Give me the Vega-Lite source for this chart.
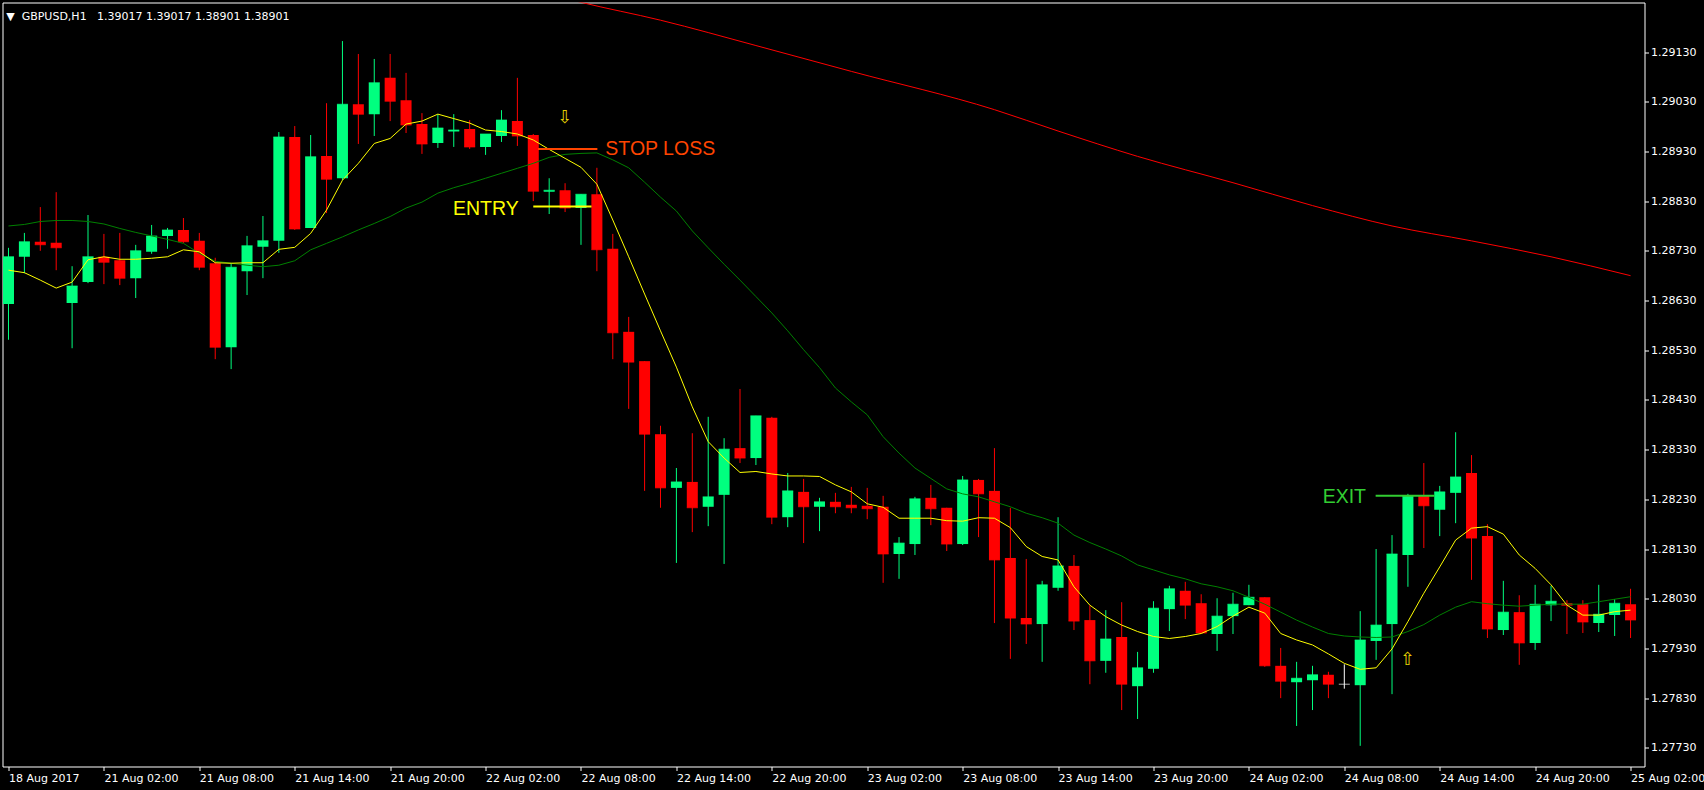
{
  "$schema": "https://vega.github.io/schema/vega-lite/v6.json",
  "width": 1642,
  "height": 764,
  "autosize": "none",
  "padding": {"left": 2.5, "top": 2.5, "right": 59.5, "bottom": 23.5},
  "background": "#000000",
  "config": {
    "view": {"stroke": "#ffffff", "strokeWidth": 1},
    "axis": {"grid": false, "domain": false, "labelColor": "#ffffff", "tickColor": "#ffffff", "labelFont": "DejaVu Sans", "labelFontSize": 11, "labelOverlap": false, "labelBound": false, "labelFlush": false, "tickSize": 4, "title": null}
  },
  "title": {
    "text": "▼\u00a0\u00a0GBPUSD,H1\u00a0\u00a0 1.39017 1.39017 1.38901 1.38901",
    "anchor": "start",
    "frame": "group",
    "orient": "top",
    "offset": -28,
    "dx": 3.7,
    "color": "#ffffff",
    "font": "DejaVu Sans",
    "fontSize": 11,
    "fontWeight": "normal",
    "baseline": "alphabetic"
  },
  "datasets": {
    "bars": [
      {"i":0,"o":1.28623,"h":1.28736,"l":1.28551,"c":1.28718,"fast":1.28691,"slow":1.28780},
      {"i":1,"o":1.28718,"h":1.28766,"l":1.28685,"c":1.28748,"fast":1.28686,"slow":1.28783},
      {"i":2,"o":1.28748,"h":1.28818,"l":1.28730,"c":1.28742,"fast":1.28671,"slow":1.28789},
      {"i":3,"o":1.28746,"h":1.28848,"l":1.28691,"c":1.28736,"fast":1.28655,"slow":1.28791},
      {"i":4,"o":1.28625,"h":1.28699,"l":1.28534,"c":1.28659,"fast":1.28667,"slow":1.28791},
      {"i":5,"o":1.28667,"h":1.28802,"l":1.28665,"c":1.28718,"fast":1.28712,"slow":1.28789},
      {"i":6,"o":1.28718,"h":1.28764,"l":1.28663,"c":1.28707,"fast":1.28718,"slow":1.28784},
      {"i":7,"o":1.28711,"h":1.28766,"l":1.28661,"c":1.28675,"fast":1.28713,"slow":1.28775},
      {"i":8,"o":1.28675,"h":1.28742,"l":1.28635,"c":1.28730,"fast":1.28713,"slow":1.28767},
      {"i":9,"o":1.28728,"h":1.28782,"l":1.28724,"c":1.28760,"fast":1.28715,"slow":1.28760},
      {"i":10,"o":1.28760,"h":1.28776,"l":1.28734,"c":1.28772,"fast":1.28718,"slow":1.28753},
      {"i":11,"o":1.28772,"h":1.28796,"l":1.28746,"c":1.28748,"fast":1.28732,"slow":1.28745},
      {"i":12,"o":1.28750,"h":1.28766,"l":1.28691,"c":1.28697,"fast":1.28728,"slow":1.28725},
      {"i":13,"o":1.28705,"h":1.28716,"l":1.28512,"c":1.28536,"fast":1.28706,"slow":1.28709},
      {"i":14,"o":1.28536,"h":1.28705,"l":1.28492,"c":1.28697,"fast":1.28705,"slow":1.28705},
      {"i":15,"o":1.28689,"h":1.28760,"l":1.28641,"c":1.28740,"fast":1.28706,"slow":1.28701},
      {"i":16,"o":1.28738,"h":1.28800,"l":1.28675,"c":1.28750,"fast":1.28706,"slow":1.28698},
      {"i":17,"o":1.28750,"h":1.28969,"l":1.28726,"c":1.28959,"fast":1.28733,"slow":1.28701},
      {"i":18,"o":1.28959,"h":1.28981,"l":1.28772,"c":1.28774,"fast":1.28737,"slow":1.28710},
      {"i":19,"o":1.28776,"h":1.28963,"l":1.28776,"c":1.28919,"fast":1.28765,"slow":1.28732},
      {"i":20,"o":1.28921,"h":1.29027,"l":1.28806,"c":1.28874,"fast":1.28812,"slow":1.28745},
      {"i":21,"o":1.28876,"h":1.29152,"l":1.28872,"c":1.29025,"fast":1.28872,"slow":1.28758},
      {"i":22,"o":1.29025,"h":1.29126,"l":1.28945,"c":1.29005,"fast":1.28906,"slow":1.28772},
      {"i":23,"o":1.29005,"h":1.29116,"l":1.28961,"c":1.29068,"fast":1.28946,"slow":1.28785},
      {"i":24,"o":1.29078,"h":1.29126,"l":1.28991,"c":1.29031,"fast":1.28956,"slow":1.28799},
      {"i":25,"o":1.29033,"h":1.29088,"l":1.28967,"c":1.28983,"fast":1.28985,"slow":1.28816},
      {"i":26,"o":1.28985,"h":1.29007,"l":1.28925,"c":1.28945,"fast":1.28991,"slow":1.28828},
      {"i":27,"o":1.28947,"h":1.29005,"l":1.28937,"c":1.28977,"fast":1.29005,"slow":1.28846},
      {"i":28,"o":1.28970,"h":1.29005,"l":1.28939,"c":1.28973,"fast":1.28996,"slow":1.28857},
      {"i":29,"o":1.28975,"h":1.28993,"l":1.28935,"c":1.28939,"fast":1.28987,"slow":1.28866},
      {"i":30,"o":1.28939,"h":1.28965,"l":1.28923,"c":1.28965,"fast":1.28973,"slow":1.28876},
      {"i":31,"o":1.28961,"h":1.29013,"l":1.28949,"c":1.28993,"fast":1.28970,"slow":1.28886},
      {"i":32,"o":1.28991,"h":1.29078,"l":1.28941,"c":1.28961,"fast":1.28965,"slow":1.28896},
      {"i":33,"o":1.28963,"h":1.28965,"l":1.28830,"c":1.28850,"fast":1.28953,"slow":1.28906},
      {"i":34,"o":1.28849,"h":1.28876,"l":1.28804,"c":1.28852,"fast":1.28934,"slow":1.28918},
      {"i":35,"o":1.28852,"h":1.28866,"l":1.28808,"c":1.28816,"fast":1.28916,"slow":1.28924},
      {"i":36,"o":1.28816,"h":1.28844,"l":1.28742,"c":1.28844,"fast":1.28898,"slow":1.28926},
      {"i":37,"o":1.28844,"h":1.28897,"l":1.28689,"c":1.28732,"fast":1.28864,"slow":1.28927},
      {"i":38,"o":1.28734,"h":1.28764,"l":1.28512,"c":1.28565,"fast":1.28792,"slow":1.28913},
      {"i":39,"o":1.28567,"h":1.28597,"l":1.28412,"c":1.28506,"fast":1.28718,"slow":1.28897},
      {"i":40,"o":1.28508,"h":1.28508,"l":1.28247,"c":1.28361,"fast":1.28643,"slow":1.28868},
      {"i":41,"o":1.28361,"h":1.28378,"l":1.28213,"c":1.28253,"fast":1.28569,"slow":1.28838},
      {"i":42,"o":1.28253,"h":1.28293,"l":1.28102,"c":1.28265,"fast":1.28496,"slow":1.28810},
      {"i":43,"o":1.28265,"h":1.28363,"l":1.28164,"c":1.28213,"fast":1.28416,"slow":1.28770},
      {"i":44,"o":1.28215,"h":1.28396,"l":1.28176,"c":1.28235,"fast":1.28346,"slow":1.28736},
      {"i":45,"o":1.28239,"h":1.28353,"l":1.28100,"c":1.28331,"fast":1.28313,"slow":1.28703},
      {"i":46,"o":1.28333,"h":1.28452,"l":1.28303,"c":1.28313,"fast":1.28284,"slow":1.28671},
      {"i":47,"o":1.28313,"h":1.28398,"l":1.28299,"c":1.28398,"fast":1.28286,"slow":1.28638},
      {"i":48,"o":1.28394,"h":1.28396,"l":1.28180,"c":1.28194,"fast":1.28281,"slow":1.28605},
      {"i":49,"o":1.28194,"h":1.28283,"l":1.28174,"c":1.28247,"fast":1.28277,"slow":1.28569},
      {"i":50,"o":1.28245,"h":1.28271,"l":1.28142,"c":1.28215,"fast":1.28277,"slow":1.28531},
      {"i":51,"o":1.28215,"h":1.28233,"l":1.28166,"c":1.28225,"fast":1.28276,"slow":1.28495},
      {"i":52,"o":1.28225,"h":1.28243,"l":1.28202,"c":1.28215,"fast":1.28259,"slow":1.28454},
      {"i":53,"o":1.28219,"h":1.28255,"l":1.28202,"c":1.28213,"fast":1.28245,"slow":1.28426},
      {"i":54,"o":1.28217,"h":1.28253,"l":1.28190,"c":1.28211,"fast":1.28221,"slow":1.28400},
      {"i":55,"o":1.28215,"h":1.28237,"l":1.28062,"c":1.28120,"fast":1.28214,"slow":1.28356},
      {"i":56,"o":1.28120,"h":1.28154,"l":1.28070,"c":1.28142,"fast":1.28192,"slow":1.28323},
      {"i":57,"o":1.28140,"h":1.28235,"l":1.28118,"c":1.28231,"fast":1.28192,"slow":1.28293},
      {"i":58,"o":1.28233,"h":1.28259,"l":1.28178,"c":1.28211,"fast":1.28192,"slow":1.28272},
      {"i":59,"o":1.28213,"h":1.28213,"l":1.28126,"c":1.28140,"fast":1.28187,"slow":1.28251},
      {"i":60,"o":1.28140,"h":1.28277,"l":1.28138,"c":1.28269,"fast":1.28186,"slow":1.28241},
      {"i":61,"o":1.28269,"h":1.28271,"l":1.28154,"c":1.28241,"fast":1.28193,"slow":1.28235},
      {"i":62,"o":1.28247,"h":1.28333,"l":1.27981,"c":1.28108,"fast":1.28192,"slow":1.28225},
      {"i":63,"o":1.28112,"h":1.28213,"l":1.27909,"c":1.27991,"fast":1.28173,"slow":1.28215},
      {"i":64,"o":1.27991,"h":1.28110,"l":1.27939,"c":1.27979,"fast":1.28135,"slow":1.28202},
      {"i":65,"o":1.27979,"h":1.28066,"l":1.27903,"c":1.28058,"fast":1.28115,"slow":1.28193},
      {"i":66,"o":1.28052,"h":1.28194,"l":1.28046,"c":1.28096,"fast":1.28108,"slow":1.28182},
      {"i":67,"o":1.28096,"h":1.28118,"l":1.27967,"c":1.27985,"fast":1.28054,"slow":1.28158},
      {"i":68,"o":1.27987,"h":1.28017,"l":1.27858,"c":1.27905,"fast":1.28017,"slow":1.28143},
      {"i":69,"o":1.27905,"h":1.28007,"l":1.27881,"c":1.27949,"fast":1.27994,"slow":1.28130},
      {"i":70,"o":1.27953,"h":1.28023,"l":1.27806,"c":1.27858,"fast":1.27977,"slow":1.28116},
      {"i":71,"o":1.27854,"h":1.27923,"l":1.27788,"c":1.27891,"fast":1.27964,"slow":1.28098},
      {"i":72,"o":1.27889,"h":1.28025,"l":1.27881,"c":1.28011,"fast":1.27954,"slow":1.28088},
      {"i":73,"o":1.28009,"h":1.28056,"l":1.27965,"c":1.28050,"fast":1.27950,"slow":1.28078},
      {"i":74,"o":1.28046,"h":1.28064,"l":1.27989,"c":1.28017,"fast":1.27954,"slow":1.28070},
      {"i":75,"o":1.28021,"h":1.28039,"l":1.27961,"c":1.27961,"fast":1.27960,"slow":1.28060},
      {"i":76,"o":1.27959,"h":1.28031,"l":1.27925,"c":1.27995,"fast":1.27974,"slow":1.28054},
      {"i":77,"o":1.27995,"h":1.28042,"l":1.27959,"c":1.28019,"fast":1.27995,"slow":1.28046},
      {"i":78,"o":1.28017,"h":1.28058,"l":1.28017,"c":1.28033,"fast":1.28013,"slow":1.28033},
      {"i":79,"o":1.28033,"h":1.28033,"l":1.27893,"c":1.27895,"fast":1.28001,"slow":1.28019},
      {"i":80,"o":1.27895,"h":1.27931,"l":1.27830,"c":1.27864,"fast":1.27960,"slow":1.28003},
      {"i":81,"o":1.27862,"h":1.27903,"l":1.27774,"c":1.27870,"fast":1.27947,"slow":1.27987},
      {"i":82,"o":1.27866,"h":1.27895,"l":1.27806,"c":1.27877,"fast":1.27937,"slow":1.27973},
      {"i":83,"o":1.27877,"h":1.27883,"l":1.27830,"c":1.27858,"fast":1.27919,"slow":1.27960},
      {"i":84,"o":1.27858,"h":1.27898,"l":1.27849,"c":1.27858,"fast":1.27900,"slow":1.27955},
      {"i":85,"o":1.27856,"h":1.28005,"l":1.27734,"c":1.27947,"fast":1.27888,"slow":1.27953},
      {"i":86,"o":1.27945,"h":1.28130,"l":1.27907,"c":1.27977,"fast":1.27891,"slow":1.27952},
      {"i":87,"o":1.27979,"h":1.28158,"l":1.27838,"c":1.28120,"fast":1.27929,"slow":1.27953},
      {"i":88,"o":1.28118,"h":1.28241,"l":1.28054,"c":1.28237,"fast":1.27984,"slow":1.27964},
      {"i":89,"o":1.28237,"h":1.28303,"l":1.28132,"c":1.28217,"fast":1.28041,"slow":1.27978},
      {"i":90,"o":1.28209,"h":1.28257,"l":1.28156,"c":1.28245,"fast":1.28094,"slow":1.27997},
      {"i":91,"o":1.28243,"h":1.28365,"l":1.28182,"c":1.28275,"fast":1.28148,"slow":1.28013},
      {"i":92,"o":1.28283,"h":1.28319,"l":1.28068,"c":1.28152,"fast":1.28172,"slow":1.28024},
      {"i":93,"o":1.28156,"h":1.28180,"l":1.27951,"c":1.27969,"fast":1.28175,"slow":1.28020},
      {"i":94,"o":1.27967,"h":1.28066,"l":1.27957,"c":1.28003,"fast":1.28160,"slow":1.28017},
      {"i":95,"o":1.28003,"h":1.28037,"l":1.27897,"c":1.27941,"fast":1.28118,"slow":1.28015},
      {"i":96,"o":1.27941,"h":1.28058,"l":1.27927,"c":1.28019,"fast":1.28091,"slow":1.28017},
      {"i":97,"o":1.28017,"h":1.28056,"l":1.27985,"c":1.28025,"fast":1.28058,"slow":1.28019},
      {"i":98,"o":1.28021,"h":1.28027,"l":1.27959,"c":1.28017,"fast":1.28017,"slow":1.28019},
      {"i":99,"o":1.28019,"h":1.28027,"l":1.27961,"c":1.27983,"fast":1.27997,"slow":1.28019},
      {"i":100,"o":1.27981,"h":1.28058,"l":1.27963,"c":1.27999,"fast":1.27997,"slow":1.28024},
      {"i":101,"o":1.27997,"h":1.28029,"l":1.27955,"c":1.28021,"fast":1.28004,"slow":1.28029},
      {"i":102,"o":1.28019,"h":1.28050,"l":1.27951,"c":1.27987,"fast":1.28007,"slow":1.28034}
    ],
    "ma200": [
      {"i":35,"v":1.29238},{"i":36,"v":1.29230},{"i":41,"v":1.29194},{"i":47,"v":1.29143},
      {"i":53,"v":1.29091},{"i":62,"v":1.29014},{"i":66,"v":1.28971},{"i":71,"v":1.28920},
      {"i":77,"v":1.28867},{"i":82,"v":1.28821},{"i":87,"v":1.28780},{"i":92,"v":1.28750},
      {"i":97,"v":1.28718},{"i":102,"v":1.28680}
    ],
    "levels": [
      {"kind":"stop","i":33.3,"i2":37.03,"p":1.28935},
      {"kind":"entry","i":33.0,"i2":36.66,"p":1.28819},
      {"kind":"exit","i":85.97,"i2":89.66,"p":1.28237}
    ],
    "notes": [
      {"kind":"entry","label":"ENTRY","i":27.95,"p":1.28802},
      {"kind":"stop","label":"STOP LOSS","i":37.53,"p":1.28922},
      {"kind":"exit","label":"EXIT","i":82.64,"p":1.28223}
    ],
    "arrows": [
      {"glyph":"⇩","i":35,"p":1.28997},
      {"glyph":"⇧","i":88,"p":1.27907}
    ]
  },
  "layer": [
    {
      "data": {"name": "bars"},
      "mark": {"type": "rule", "strokeWidth": 1, "clip": true},
      "encoding": {
        "x": {"field": "i", "type": "quantitative", "title": null,
              "scale": {"domain": [-0.0625, 102.5625], "nice": false, "zero": false},
              "axis": {"orient": "bottom", "values": [0,6,12,18,24,30,36,42,48,54,60,66,72,78,84,90,96,102],
                       "labelExpr": "['18 Aug 2017','21 Aug 02:00','21 Aug 08:00','21 Aug 14:00','21 Aug 20:00','22 Aug 02:00','22 Aug 08:00','22 Aug 14:00','22 Aug 20:00','23 Aug 02:00','23 Aug 08:00','23 Aug 14:00','23 Aug 20:00','24 Aug 02:00','24 Aug 08:00','24 Aug 14:00','24 Aug 20:00','25 Aug 02:00'][round(datum.value/6)]",
                       "labelAlign": "left", "labelDx": -1.5, "labelBaseline": "top", "labelPadding": 1.5}},
        "y": {"field": "l", "type": "quantitative", "title": null,
              "scale": {"domain": [1.2769243, 1.292296], "nice": false, "zero": false},
              "axis": {"orient": "right", "values": [1.2773,1.2783,1.2793,1.2803,1.2813,1.2823,1.2833,1.2843,1.2853,1.2863,1.2873,1.2883,1.2893,1.2903,1.2913],
                       "format": ".5f", "labelPadding": 2}},
        "y2": {"field": "h"},
        "color": {"condition": [{"test": "datum.c > datum.o", "value": "#00ff7f"}, {"test": "datum.c < datum.o", "value": "#ff0000"}], "value": "#ffffff"}
      }
    },
    {
      "data": {"name": "bars"},
      "mark": {"type": "bar", "size": 11, "clip": true},
      "encoding": {
        "x": {"field": "i", "type": "quantitative", "title": null},
        "y": {"field": "o", "type": "quantitative", "title": null},
        "y2": {"field": "c"},
        "color": {"condition": [{"test": "datum.c > datum.o", "value": "#00ff7f"}, {"test": "datum.c < datum.o", "value": "#ff0000"}], "value": "#ffffff"}
      }
    },
    {
      "data": {"name": "bars"},
      "mark": {"type": "tick", "orient": "horizontal", "size": 11, "thickness": 1, "clip": true},
      "encoding": {
        "x": {"field": "i", "type": "quantitative", "title": null},
        "y": {"field": "c", "type": "quantitative", "title": null},
        "color": {"condition": [{"test": "datum.c > datum.o", "value": "#00ff7f"}, {"test": "datum.c < datum.o", "value": "#ff0000"}], "value": "#ffffff"}
      }
    },
    {
      "data": {"name": "bars"},
      "mark": {"type": "line", "color": "#008000", "strokeWidth": 1, "clip": true},
      "encoding": {
        "x": {"field": "i", "type": "quantitative", "title": null},
        "y": {"field": "slow", "type": "quantitative", "title": null}
      }
    },
    {
      "data": {"name": "bars"},
      "mark": {"type": "line", "color": "#ffff00", "strokeWidth": 1, "clip": true},
      "encoding": {
        "x": {"field": "i", "type": "quantitative", "title": null},
        "y": {"field": "fast", "type": "quantitative", "title": null}
      }
    },
    {
      "data": {"name": "ma200"},
      "mark": {"type": "line", "color": "#ff0000", "strokeWidth": 1, "clip": true, "interpolate": "monotone"},
      "encoding": {
        "x": {"field": "i", "type": "quantitative", "title": null},
        "y": {"field": "v", "type": "quantitative", "title": null}
      }
    },
    {
      "data": {"name": "levels"},
      "mark": {"type": "rule", "strokeWidth": 2},
      "encoding": {
        "x": {"field": "i", "type": "quantitative", "title": null},
        "x2": {"field": "i2"},
        "y": {"field": "p", "type": "quantitative", "title": null},
        "color": {"condition": [{"test": "datum.kind == 'stop'", "value": "#ff4500"}, {"test": "datum.kind == 'entry'", "value": "#ffff00"}], "value": "#32cd32"}
      }
    },
    {
      "data": {"name": "notes"},
      "mark": {"type": "text", "font": "Liberation Sans", "fontSize": 19.5, "align": "left", "baseline": "alphabetic"},
      "encoding": {
        "x": {"field": "i", "type": "quantitative", "title": null},
        "y": {"field": "p", "type": "quantitative", "title": null},
        "text": {"field": "label"},
        "color": {"condition": [{"test": "datum.kind == 'stop'", "value": "#ff4500"}, {"test": "datum.kind == 'entry'", "value": "#ffff00"}], "value": "#32cd32"}
      }
    },
    {
      "data": {"name": "arrows"},
      "mark": {"type": "text", "font": "DejaVu Sans", "fontSize": 18, "align": "center", "baseline": "middle", "color": "#e6d200"},
      "encoding": {
        "x": {"field": "i", "type": "quantitative", "title": null},
        "y": {"field": "p", "type": "quantitative", "title": null},
        "text": {"field": "glyph"}
      }
    }
  ]
}
